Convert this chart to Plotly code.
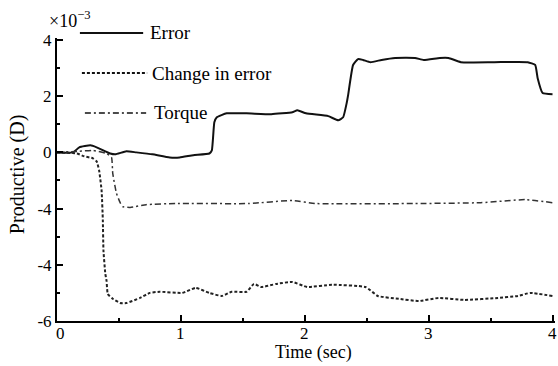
import plotly.graph_objects as go

# ---- data (units of 1e-3) ----
err_t = [0.0, 0.13, 0.18, 0.27, 0.32, 0.43, 0.47, 0.56, 0.64, 0.77, 0.91, 0.99, 1.10, 1.23, 1.25,
         1.27, 1.29, 1.37, 1.53, 1.73, 1.90, 1.94, 2.01, 2.19, 2.27, 2.31, 2.34, 2.35, 2.39, 2.43,
         2.47, 2.53, 2.62, 2.73, 2.89, 2.96, 3.09, 3.16, 3.26, 3.53, 3.80, 3.86, 3.88, 3.92, 4.0]
err_v = [0.0, 0.0, 0.18, 0.25, 0.18, -0.04, -0.07, 0.04, 0.0, -0.07, -0.18, -0.18, -0.10, -0.04, 0.07,
         1.07, 1.25, 1.39, 1.39, 1.36, 1.43, 1.50, 1.39, 1.29, 1.14, 1.25, 1.79, 2.04, 3.11, 3.32,
         3.29, 3.21, 3.29, 3.36, 3.36, 3.29, 3.36, 3.36, 3.21, 3.21, 3.21, 3.11, 2.64, 2.11, 2.07]

chg_t = [0.0, 0.16, 0.22, 0.29, 0.32, 0.34, 0.36, 0.37, 0.375, 0.39, 0.40, 0.41, 0.45, 0.51, 0.56,
         0.67, 0.75, 0.83, 1.01, 1.12, 1.23, 1.33, 1.41, 1.53, 1.59, 1.65, 1.77, 1.90, 2.02, 2.22,
         2.49, 2.59, 2.76, 2.92, 3.08, 3.29, 3.56, 3.72, 3.82, 4.0]
chg_v = [0.0, -0.04, -0.14, -0.21, -0.32, -0.64, -1.36, -2.43, -3.50, -4.32, -4.57, -5.04, -5.21, -5.36, -5.36,
         -5.18, -5.00, -4.96, -5.00, -4.82, -5.00, -5.11, -4.96, -4.96, -4.68, -4.79, -4.68, -4.61, -4.79, -4.71,
         -4.79, -5.11, -5.21, -5.29, -5.18, -5.25, -5.18, -5.11, -5.00, -5.11]

trq_t = [0.0, 0.18, 0.29, 0.40, 0.44, 0.45, 0.48, 0.51, 0.53, 0.59, 0.72, 0.96, 1.55, 1.90, 2.09,
         2.89, 3.42, 3.78, 4.0]
trq_v = [0.0, 0.04, 0.07, -0.04, -0.18, -0.75, -1.46, -1.79, -1.93, -1.96, -1.86, -1.82, -1.82, -1.71, -1.82,
         -1.82, -1.79, -1.68, -1.79]

x_ticks = [0, 1, 2, 3, 4]
y_ticks = [-6, -4, -2, 0, 2, 4]
y_ticktext = ["-6", "-4", "-4", "0", "2", "4"]
names = ["Error", "Change in error", "Torque"]

FONT = "Liberation Serif, Times New Roman, serif"

fig = go.Figure()
fig.add_trace(go.Scatter(x=err_t, y=err_v, mode="lines", name=names[0],
                         line=dict(color="#111111", width=2, shape="spline", smoothing=0.4)))
fig.add_trace(go.Scatter(x=chg_t, y=chg_v, mode="lines", name=names[1],
                         line=dict(color="#222222", width=2, dash="3px,2px", shape="spline", smoothing=0.4)))
fig.add_trace(go.Scatter(x=trq_t, y=trq_v, mode="lines", name=names[2],
                         line=dict(color="#333333", width=1.5, dash="6px,3px,2px,3px", shape="spline", smoothing=0.4)))

# legend drawn as line samples + text
leg = [
    (0.046, 0.173, 1.018, 0.183, "solid", 2),
    (0.050, 0.181, 0.876, 0.187, "3px,2px", 2),
    (0.056, 0.179, 0.735, 0.191, "6px,3px,2px,3px", 1.5),
]
for (x0, x1, yy, xt, dsh, w), nm in zip(leg, names):
    fig.add_shape(type="line", xref="paper", yref="paper", x0=x0, x1=x1, y0=yy, y1=yy,
                  line=dict(color="#111111", width=w, dash=dsh))
    fig.add_annotation(xref="paper", yref="paper", x=xt, y=yy, text=nm, showarrow=False,
                       xanchor="left", yanchor="middle", font=dict(size=19, color="black", family=FONT))

# x tick labels placed close under the axis (as in the reference)
for v in x_ticks:
    fig.add_annotation(xref="x", yref="paper", x=v, y=-0.005, text=str(v), showarrow=False,
                       xanchor="center", yanchor="top", xshift=3 if v == 0 else 0,
                       font=dict(size=17, color="black", family=FONT))

fig.add_annotation(xref="paper", yref="paper", x=-0.02, y=1.067, text="×10<sup>−3</sup>",
                   showarrow=False, xanchor="left", yanchor="middle",
                   font=dict(size=18, color="black", family=FONT))
fig.add_annotation(xref="paper", yref="paper", x=-0.078, y=0.516, text="Productive (D)",
                   showarrow=False, textangle=-90, xanchor="center", yanchor="middle",
                   font=dict(size=20, color="black", family=FONT))
fig.add_annotation(xref="paper", yref="paper", x=0.516, y=-0.112, text="Time (sec)",
                   showarrow=False, xanchor="center", yanchor="middle",
                   font=dict(size=18, color="black", family=FONT))

fig.update_layout(
    width=558, height=366,
    margin=dict(l=57, r=3, t=38, b=45),
    paper_bgcolor="white", plot_bgcolor="white",
    showlegend=False,
    font=dict(family=FONT, size=17, color="black"),
    xaxis=dict(range=[0, 4.02], tickvals=x_ticks, showticklabels=False,
               showgrid=False, zeroline=False, showline=True, linecolor="black", linewidth=2,
               ticks="inside", ticklen=6, tickwidth=1.5, tickcolor="black",
               minor=dict(dtick=0.5, ticks="inside", ticklen=3, tickcolor="black", showgrid=False)),
    yaxis=dict(range=[-6, 4.07], tickvals=y_ticks, ticktext=y_ticktext,
               showgrid=False, zeroline=False, showline=True, linecolor="black", linewidth=2,
               ticks="inside", ticklen=6, tickwidth=1.5, tickcolor="black",
               minor=dict(dtick=1, ticks="inside", ticklen=3, tickcolor="black", showgrid=False),
               tickfont=dict(size=17, family=FONT)),
)

fig.write_html("out.html")
